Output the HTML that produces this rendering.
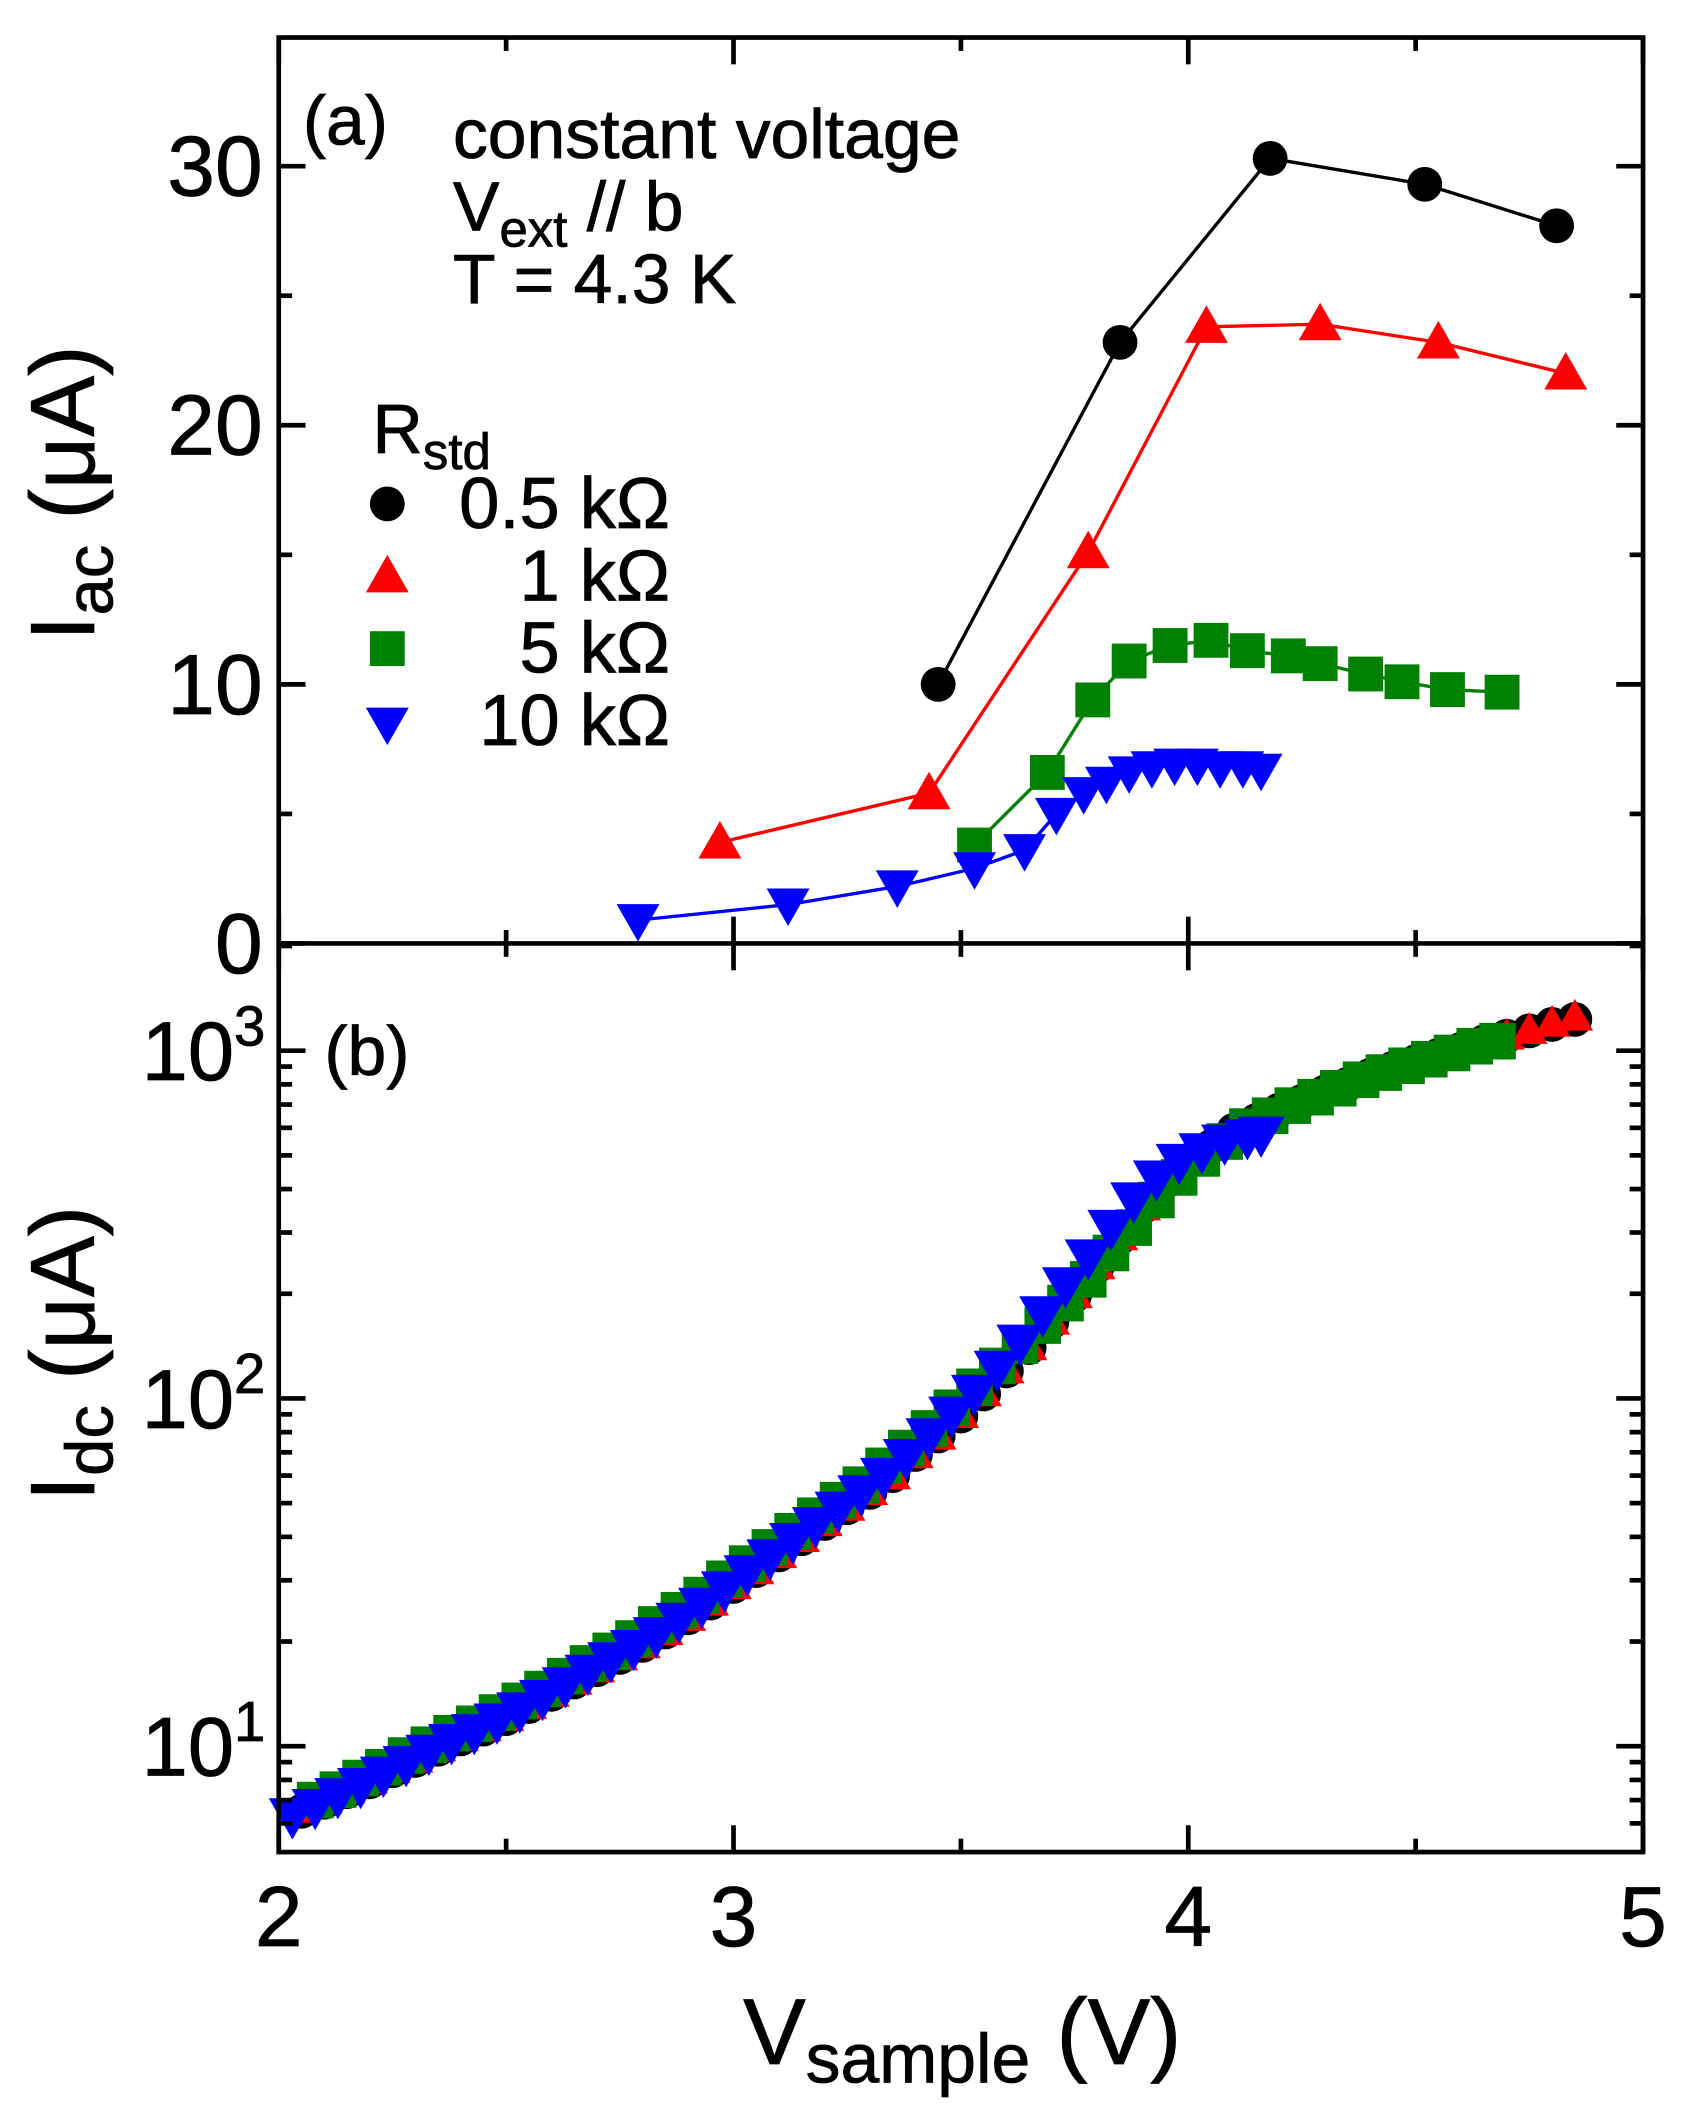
<!DOCTYPE html>
<html><head><meta charset="utf-8"><style>
html,body{margin:0;padding:0;background:#fff}
svg{display:block}
text{font-family:"Liberation Sans",Arial,sans-serif;stroke:#000;stroke-width:0.6}
</style></head><body>
<svg id="chart" width="1702" height="2111" viewBox="0 0 1270 1575.2" preserveAspectRatio="none" xmlns="http://www.w3.org/2000/svg">
<g id="marks"></g>
<g id="axes"></g>
<g id="texts" font-size="50">
<text x="226" y="108" font-size="52">(a)</text>
<text x="242" y="802" font-size="52">(b)</text>
<text x="338" y="118" font-size="52">constant voltage</text>
<text x="338" y="172" font-size="52">V<tspan font-size="38" dy="12">ext</tspan><tspan dy="-12"> // b</tspan></text>
<text x="338" y="226" font-size="52">T = 4.3 K</text>
<text x="278" y="338" font-size="52">R<tspan font-size="38" dy="12">std</tspan></text>
<g font-size="54">
<circle cx="289" cy="376" r="13" fill="#000"/>
<text x="500" y="394" text-anchor="end">0.5 kΩ</text>
<polygon points="289,414 273,442 305,442" fill="#f00"/>
<text x="500" y="448" text-anchor="end">1 kΩ</text>
<rect x="276" y="471" width="26" height="26" fill="#008000"/>
<text x="500" y="502" text-anchor="end">5 kΩ</text>
<polygon points="289,556 273,528 305,528" fill="#00f"/>
<text x="500" y="556" text-anchor="end">10 kΩ</text>
</g>
<text transform="translate(70,368) rotate(-90)" text-anchor="middle" font-size="68">I<tspan font-size="50" dy="14">ac</tspan><tspan dy="-14"> (μA)</tspan></text>
<text transform="translate(70,1010) rotate(-90)" text-anchor="middle" font-size="68">I<tspan font-size="50" dy="14">dc</tspan><tspan dy="-14"> (μA)</tspan></text>
<text x="718" y="1540" text-anchor="middle" font-size="70">V<tspan font-size="52" dy="14">sample</tspan><tspan dy="-14"> (V)</tspan></text>
</g>
</svg>
<script>
// Top panel data
const blackV=[3.45,3.85,4.18,4.52,4.81];
const blackI=[10,23.2,30.3,29.3,27.7];
const redV=[2.97,3.43,3.78,4.04,4.29,4.55,4.83];
const redI=[3.9,5.8,15.1,23.8,23.9,23.2,22.0];
const greenV=[3.53,3.69,3.79,3.87,3.96,4.05,4.13,4.22,4.29,4.39,4.47,4.57,4.69];
const greenI=[3.8,6.6,9.4,10.9,11.5,11.7,11.3,11.1,10.8,10.4,10.1,9.8,9.7];
const blueV=[2.79,3.12,3.36,3.53,3.64,3.71,3.77,3.82,3.87,3.92,3.97,4.02,4.07,4.12,4.16];
const blueI=[0.9,1.5,2.2,2.9,3.6,5.0,5.8,6.2,6.6,6.8,6.9,6.9,6.8,6.8,6.7];
// Bottom panel data
const dcV=[2.05,2.1,2.15,2.2,2.25,2.3,2.35,2.4,2.45,2.5,2.55,2.6,2.65,2.7,2.75,2.8,2.85,2.9,2.95,3.0,3.05,3.1,3.15,3.2,3.25,3.3,3.35,3.4,3.45,3.5,3.55,3.6,3.65,3.7,3.75,3.8,3.85,3.9,3.95,4.0,4.05,4.1,4.15,4.2,4.25,4.3,4.35,4.4,4.45,4.5,4.55,4.6,4.65,4.7,4.75,4.8,4.85];
const dcBlack=[6.5,6.9,7.4,7.9,8.5,9.1,9.8,10.5,11.2,12.0,13.0,14.1,15.3,16.6,18.0,19.5,21.3,23.4,25.8,28.8,32,35.5,39.5,43.7,48.5,53.7,60,69,78,89,103,120,140,166,198,240,290,355,420,480,530,590,630,675,715,760,800,850,890,930,970,1010,1060,1100,1140,1190,1230];
const dcRed=[6.6,7.0,7.5,8.0,8.6,9.2,9.9,10.6,11.3,12.1,13.1,14.2,15.4,16.7,18.1,19.6,21.4,23.5,26,29,32,35.6,39.6,44,48.7,54,60,69,78,90,104,121,141,167,199,241,292,356,421,481,531,591,632,677,717,762,802,852,892,932,972,1012,1062,1102,1145,1200,1250];
const greenDcV=[2.08,2.13,2.18,2.23,2.28,2.33,2.38,2.43,2.48,2.53,2.58,2.63,2.68,2.73,2.78,2.83,2.88,2.93,2.98,3.03,3.08,3.13,3.18,3.23,3.28,3.33,3.38,3.43,3.48,3.53,3.58,3.63,3.68,3.73,3.78,3.83,3.88,3.93,3.98,4.03,4.08,4.13,4.18,4.23,4.28,4.33,4.38,4.43,4.48,4.53,4.58,4.63,4.68];
const greenDcI=[7.0,7.5,8.1,8.7,9.4,10.1,10.9,11.6,12.5,13.5,14.6,15.9,17.3,18.8,20.4,22.4,24.6,27.2,30.3,33.5,37.3,41.5,46,51,56.5,64,72,82,94,108,124,142,162,188,220,262,310,372,432,490,548,605,650,695,735,780,825,865,905,945,985,1030,1065];
const blueDcV=[2.03,2.08,2.13,2.18,2.23,2.28,2.33,2.38,2.43,2.48,2.53,2.58,2.63,2.68,2.73,2.78,2.83,2.88,2.93,2.98,3.03,3.08,3.13,3.18,3.23,3.28,3.33,3.38,3.43,3.48,3.53,3.58,3.63,3.68,3.73,3.78,3.83,3.88,3.93,3.98,4.03,4.08,4.13,4.16];
const blueDcI=[6.3,6.7,7.2,7.7,8.3,8.9,9.6,10.3,11.0,11.8,12.7,13.8,15.0,16.3,17.7,19.2,20.9,23.0,25.4,28.3,31.5,35,39,43.3,48,53.5,60,68,78,90,104,122,145,175,212,255,310,372,430,480,515,545,565,575];

const X0=208,X1=1226,xmin=2,xmax=5;
const x=v=>X0+(v-xmin)/(xmax-xmin)*(X1-X0);
const yTop=i=>704-i*(704-124)/30;
const yLog=i=>1303-(Math.log10(i)-1)*259.5;
const NS='http://www.w3.org/2000/svg';
const marks=document.getElementById('marks'),axes=document.getElementById('axes');
function mk(tag,attrs,parent){const e=document.createElementNS(NS,tag);for(const k in attrs)e.setAttribute(k,attrs[k]);parent.appendChild(e);return e;}
function marker(type,cx,cy,color,g,s){
  let e;
  if(type==='circle')e=mk('circle',{cx:cx,cy:cy,r:13*s,fill:color},g);
  else if(type==='up')e=mk('polygon',{points:`${cx},${cy-16*s} ${cx-16*s},${cy+12*s} ${cx+16*s},${cy+12*s}`,fill:color},g);
  else if(type==='down')e=mk('polygon',{points:`${cx},${cy+16*s} ${cx-16*s},${cy-12*s} ${cx+16*s},${cy-12*s}`,fill:color},g);
  else e=mk('rect',{x:cx-13*s,y:cy-13*s,width:26*s,height:26*s,fill:color},g);
  return e;
}
function series(name,V,I,yf,color,type,line,s){
  const g=mk('g',{},marks);
  
  
  if(line){const p=mk('polyline',{points:V.map((v,k)=>x(v)+','+yf(I[k])).join(' '),fill:'none',stroke:color,'stroke-width':2.5},g);
    
    }
  V.forEach((v,k)=>{const m=marker(type,x(v),yf(I[k]),color,g,s);
    
    });
}
series('series-0.5k-ac',blackV,blackI,yTop,'#000','circle',true,1);
series('series-1k-ac',redV,redI,yTop,'#f00','up',true,1);
series('series-5k-ac',greenV,greenI,yTop,'#008000','square',true,1);
series('series-10k-ac',blueV,blueI,yTop,'#00f','down',true,1);
series('series-0.5k-dc',dcV,dcBlack,yLog,'#000','circle',false,1);
series('series-1k-dc',dcV,dcRed,yLog,'#f00','up',false,0.85);
series('series-5k-dc',greenDcV,greenDcI,yLog,'#008000','square',false,1.05);
series('series-10k-dc',blueDcV,blueDcI,yLog,'#00f','down',false,1.1);

// axes
const frame=mk('rect',{x:X0,y:28,width:X1-X0,height:1382-28,fill:'none',stroke:'#000','stroke-width':3.5},axes);


const div=mk('line',{x1:X0,x2:X1,y1:704,y2:704,stroke:'#000','stroke-width':3.5},axes);


function tick(x1,y1,x2,y2){const t=mk('line',{x1,y1,x2,y2,stroke:'#000','stroke-width':3.5},axes);
  
  }
const xTicks=[2,3,4,5],xMinor=[2.5,3.5,4.5];
const xTickLabels=['2','3','4','5'];
xTicks.forEach((v,k)=>{const px=x(v);tick(px,1382,px,1362);tick(px,704,px,684);tick(px,704,px,724);tick(px,28,px,48);
  const t=mk('text',{x:px,y:1452,'text-anchor':'middle','font-size':64},axes);t.textContent=xTickLabels[k];
  
  });
xMinor.forEach(v=>{const px=x(v);tick(px,1382,px,1372);tick(px,704,px,694);tick(px,704,px,714);tick(px,28,px,38);});
const yTicks=[0,10,20,30],yMinorT=[5,15,25];
const yTickLabels=['0','10','20','30'];
yTicks.forEach((v,k)=>{const py=yTop(v);tick(X0,py,X0+20,py);tick(X1,py,X1-20,py);
  const t=mk('text',{x:196,y:py+22,'text-anchor':'end','font-size':64},axes);t.textContent=yTickLabels[k];
  
  });
yMinorT.forEach(v=>{const py=yTop(v);tick(X0,py,X0+10,py);tick(X1,py,X1-10,py);});
const logTicks=[10,100,1000],logTickExp=['1','2','3'];
logTicks.forEach((v,k)=>{const py=yLog(v);tick(X0,py,X0+20,py);tick(X1,py,X1-20,py);
  const t=mk('text',{x:198,y:py+22,'text-anchor':'end','font-size':62},axes);
  t.innerHTML='10<tspan font-size="42" dy="-26">'+logTickExp[k]+'</tspan>';
  
  });
[6,7,8,9,20,30,40,50,60,70,80,90,200,300,400,500,600,700,800,900,2000].forEach(v=>{const py=yLog(v);if(py<704||py>1382)return;tick(X0,py,X0+10,py);tick(X1,py,X1-10,py);});
</script>
</body></html>
